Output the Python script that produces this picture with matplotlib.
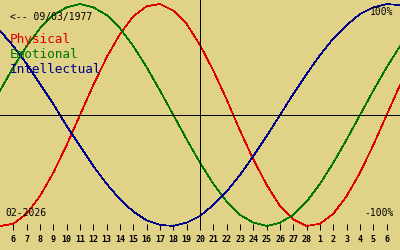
import numpy as np
import matplotlib.pyplot as plt

# -----------------------------
# Dados (valores diários, 05/02 a 07/03)
# -----------------------------
birth_label = "<-- 09/03/1977"
month_label = "02-2026"
today = 20

day_pos = list(range(5, 36))   # 5..28 = fevereiro, 29..35 = 1..7 de março

physical = [-1.00, -0.98, -0.89, -0.73, -0.52, -0.27, 0.00, 0.27, 0.52, 0.73,
            0.89, 0.98, 1.00, 0.94, 0.82, 0.63, 0.40, 0.14, -0.14, -0.40,
            -0.63, -0.82, -0.94, -1.00, -0.98, -0.89, -0.73, -0.52, -0.27, 0.00,
            0.27]
emotional = [0.22, 0.43, 0.62, 0.78, 0.90, 0.97, 1.00, 0.97, 0.90, 0.78,
             0.62, 0.43, 0.22, 0.00, -0.22, -0.43, -0.62, -0.78, -0.90, -0.97,
             -1.00, -0.97, -0.90, -0.78, -0.62, -0.43, -0.22, 0.00, 0.22, 0.43,
             0.62]
intellectual = [0.76, 0.62, 0.46, 0.28, 0.10, -0.10, -0.28, -0.46, -0.62, -0.76,
                -0.87, -0.95, -0.99, -1.00, -0.97, -0.91, -0.81, -0.69, -0.54, -0.37,
                -0.19, 0.00, 0.19, 0.37, 0.54, 0.69, 0.81, 0.91, 0.97, 1.00,
                0.99]

tick_pos = list(range(6, 35))
tick_labels = ['6', '7', '8', '9', '10', '11', '12', '13', '14', '15', '16',
               '17', '18', '19', '20', '21', '22', '23', '24', '25', '26', '27',
               '28', '1', '2', '3', '4', '5', '6']

series = [("Physical", physical, '#e00000'),
          ("Emotional", emotional, '#007800'),
          ("Intellectual", intellectual, '#000088')]

bg = '#e0d286'
mono = 'DejaVu Sans Mono'

# -----------------------------
# Plot
# -----------------------------
fig = plt.figure(figsize=(4, 2.5), dpi=100, facecolor=bg)
ax = fig.add_axes([0, 20 / 250, 1, 230 / 250])
ax.set_facecolor(bg)

for name, vals, col in series:
    ax.plot(day_pos, vals, color=col, lw=0.5, antialiased=False)

ax.axhline(0, color='black', lw=0.72, antialiased=False)
ax.axvline(today, color='black', lw=0.72, antialiased=False)

ax.set_xlim(5, 35)
ax.set_ylim((115 - 230) / 111, 115 / 111)

for s in ax.spines.values():
    s.set_visible(False)

ax.set_xticks(tick_pos)
ax.set_xticklabels(tick_labels, fontfamily=mono, fontsize=6, fontweight='bold')
ax.tick_params(axis='x', direction='in', length=4, width=0.72, color='black', pad=3.5)
ax.set_yticks([])

# textos
ax.text(0.025, 1 - 20 / 230, birth_label, transform=ax.transAxes,
        fontfamily=mono, fontsize=7, color='black', va='baseline')
y0 = 42.7
for i, (name, vals, col) in enumerate(series):
    ax.text(0.025, 1 - (y0 + 15 * i) / 230, name, transform=ax.transAxes,
            fontfamily=mono, fontsize=9.2, color=col, va='baseline')

ax.text(0.983, 1 - 15 / 230, "100%", transform=ax.transAxes,
        fontfamily=mono, fontsize=7, color='black', va='baseline', ha='right')
ax.text(0.985, 1 - 215.7 / 230, "-100%", transform=ax.transAxes,
        fontfamily=mono, fontsize=7, color='black', va='baseline', ha='right')
ax.text(0.0125, 1 - 215.7 / 230, month_label, transform=ax.transAxes,
        fontfamily=mono, fontsize=7, color='black', va='baseline')

fig.savefig('out.png', dpi=100, facecolor=bg)
